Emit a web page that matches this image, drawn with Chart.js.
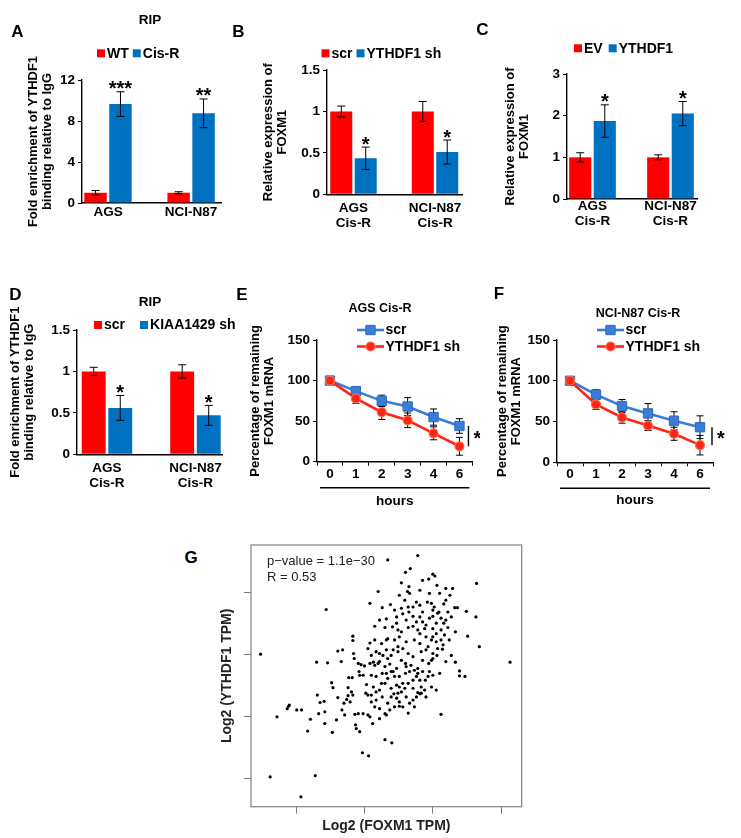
<!DOCTYPE html>
<html>
<head>
<meta charset="utf-8">
<title>YTHDF1 / FOXM1</title>
<script src="https://cdn.jsdelivr.net/npm/chart.js@4.4.1/dist/chart.umd.min.js"></script>
<style>
  html, body { margin: 0; padding: 0; background: #fff; }
  #fig { position: relative; width: 741px; height: 838px; overflow: hidden; font-family: Arial, "Liberation Sans", Helvetica, sans-serif; }
  #fig canvas { position: absolute; }
  .txt { position: absolute; transform: translate(-50%, -50%); font-weight: bold; line-height: 1; white-space: nowrap; color: #000; }
  .letter { font-size: 17px; }
  .title { font-size: 13.5px; }
  .small { font-size: 12.5px; }
</style>
</head>
<body>
<div id="fig">
  <canvas id="chartA" width="240" height="235" style="left:0;top:0"></canvas>
  <canvas id="chartB" width="240" height="235" style="left:240px;top:0"></canvas>
  <canvas id="chartC" width="261" height="235" style="left:480px;top:0"></canvas>
  <canvas id="chartD" width="240" height="250" style="left:0;top:260px"></canvas>
  <canvas id="chartE" width="240" height="255" style="left:240px;top:260px"></canvas>
  <canvas id="chartF" width="261" height="255" style="left:480px;top:260px"></canvas>
  <canvas id="chartG" width="341" height="298" style="left:200px;top:540px"></canvas>

  <div class="txt letter" style="left:17.5px;top:31px">A</div>
  <div class="txt letter" style="left:238.5px;top:31px">B</div>
  <div class="txt letter" style="left:482.5px;top:29px">C</div>
  <div class="txt letter" style="left:15.5px;top:293.5px">D</div>
  <div class="txt letter" style="left:242px;top:294px">E</div>
  <div class="txt letter" style="left:499px;top:292.5px">F</div>
  <div class="txt letter" style="left:191px;top:557px">G</div>

  <div class="txt title" style="left:150px;top:20px">RIP</div>
  <div class="txt title" style="left:150px;top:302px">RIP</div>
  <div class="txt small" style="left:380px;top:308px">AGS Cis-R</div>
  <div class="txt small" style="left:638px;top:313px">NCI-N87 Cis-R</div>
</div>

<script>
const FONT = 'Arial, "Liberation Sans", Helvetica, sans-serif';
const BAR_RED = '#FF0000';
const BAR_BLUE = '#0070C0';
const LINE_BLUE = '#3A7DD6';
const LINE_RED = '#FF2418';

// categories
const cellLines = ['AGS', 'NCI-N87'];
const cellLinesCisR = [['AGS', 'Cis-R'], ['NCI-N87', 'Cis-R']];
const hourLabels = ['0', '1', '2', '3', '4', '6'];

// A - RIP, WT vs Cis-R
const ripWT = [1.0, 1.0];
const ripWTErr = [0.22, 0.1];
const ripCisR = [9.65, 8.75];
const ripCisRErr = [1.2, 1.4];
const ripStars = ['***', '**'];
const ripTicks = [0, 4, 8, 12];

// B - FOXM1 after YTHDF1 knockdown
const foxScr = [1.0, 1.0];
const foxScrErr = [0.065, 0.12];
const foxSh = [0.435, 0.51];
const foxShErr = [0.135, 0.145];

// C - FOXM1 after YTHDF1 overexpression
const foxEV = [1.0, 1.0];
const foxEVErr = [0.11, 0.06];
const foxOE = [1.87, 2.05];
const foxOEErr = [0.39, 0.29];
const oeTicks = [0, 1, 2, 3];

// D - RIP after KIAA1429 knockdown
const kiaaScr = [1.0, 1.0];
const kiaaScrErr = [0.05, 0.08];
const kiaaSh = [0.56, 0.47];
const kiaaShErr = [0.15, 0.12];

const halfTicks = [0, 0.5, 1, 1.5];
const oneStar = ['*', '*'];

// E / F - mRNA stability
const agsScr = [100, 87, 75, 68, 55, 44];
const agsScrErr = [2, 2, 7, 11, 10, 9];
const agsSh = [100, 78, 61, 51, 35, 19];
const agsShErr = [2, 6, 9, 9, 8, 11];
const nciScr = [100, 83, 69, 60, 51, 43];
const nciScrErr = [2, 6, 8, 12, 11, 14];
const nciSh = [100, 71, 55, 45, 35, 21];
const nciShErr = [2, 6, 7, 6, 8, 12];
const pctTicks = [0, 50, 100, 150];

// G - correlation (log2 TPM)
const foxm1Tpm = [
  2.34, 2.78, 2.67, 2.60, 0.48, 1.44, 4.13, 0.72, 0.62, 1.28,
  1.07, 1.97, 2.06, 2.30, 2.40, 3.12, 3.64, 3.68, 3.63, 3.49,
  3.51, 3.39, 3.39, 3.47, 3.33, 3.33, 3.32, 3.36, 3.19, 3.29,
  3.25, 3.06, 3.00, 3.03, 2.94, 2.85, 2.54, 2.20, 2.65, 2.66,
  2.63, 1.30, 1.46, 0.90, 0.89, 0.87, 1.01, 1.08, 1.17, 1.21,
  1.33, 1.31, 1.35, 1.41, 1.42, 1.42, 1.53, 1.52, 1.54, 1.59,
  1.61, 1.61, 1.68, 1.66, 1.67, 1.70, 1.71, 1.74, 1.76, 1.79,
  1.76, 1.77, 1.82, 1.83, 1.83, 1.84, 1.85, 1.91, 1.81, 1.83,
  1.87, 1.88, 1.93, 1.86, 1.91, 1.98, 1.95, 1.92, 1.93, 2.00,
  2.08, 2.13, 2.15, 1.98, 2.03, 2.02, 2.05, 2.10, 2.05, 2.08,
  2.12, 2.08, 2.05, 2.08, 2.10, 2.15, 2.81, 2.95, 2.26, 2.38,
  2.44, 2.54, 2.64, 2.76, 2.81, 2.92, 2.98, 3.02, 3.09, 3.16,
  2.22, 2.32, 2.47, 2.56, 2.65, 2.71, 2.81, 2.85, 2.95, 3.00,
  3.07, 3.16, 3.19, 3.27, 2.30, 2.41, 2.49, 2.54, 2.64, 2.71,
  2.78, 2.88, 3.00, 3.05, 3.12, 3.22, 2.15, 2.25, 2.34, 2.44,
  2.51, 2.61, 2.73, 2.81, 2.90, 2.98, 3.05, 3.15, 3.24, 2.17,
  2.22, 2.32, 2.39, 2.49, 2.56, 2.64, 2.71, 2.83, 2.90, 3.00,
  3.06, 3.14, 3.27, 2.22, 2.30, 2.37, 2.47, 2.54, 2.60, 2.68,
  2.78, 2.85, 2.94, 3.00, 3.19, 2.10, 2.17, 2.26, 2.34, 2.42,
  2.51, 2.60, 2.71, 2.78, 2.85, 2.93, 3.00, 3.10, 2.13, 2.22,
  2.30, 2.39, 2.47, 2.54, 2.64, 2.71, 2.78, 2.88, 2.98, 3.05,
  2.17, 2.26, 2.34, 2.43, 2.47, 2.51, 2.61, 2.71, 2.81, 2.90,
  2.15, 2.22, 2.30, 2.37, 2.44, 2.51, 2.64, 2.73, 2.22, 2.32,
  2.49, 2.51, 2.56, 2.59, 2.39, 2.44, 2.61, 2.66, 2.73, 2.76,
  2.81, 2.83, 2.89, 2.95, 2.98, 3.07, 3.12, 3.17, 3.00, 2.93,
  2.81, 2.49, 2.42, 2.34, 2.27, 2.20, 2.32, 2.25, 2.17, 2.10,
  2.39, 2.56, 2.66, 2.76, 2.83, 2.32, 2.47, 2.61, 2.76, 2.90,
  3.05, 3.12, 3.22, 3.00, 2.85, 2.71, 2.59, 2.51, 3.10, 3.19
];
const ythdf1Tpm = [
  4.53, 4.60, 4.39, 4.33, 3.01, 3.73, 2.88, 2.00, 1.03, 1.05,
  0.71, 1.42, 1.37, 1.63, 1.58, 2.04, 4.15, 3.13, 3.61, 3.70,
  3.30, 2.74, 2.66, 2.65, 2.88, 3.37, 3.76, 3.76, 4.07, 4.07,
  3.96, 4.12, 4.30, 4.27, 4.22, 4.20, 4.16, 4.02, 4.10, 3.99,
  4.02, 2.88, 2.87, 2.19, 2.17, 2.13, 2.11, 2.11, 1.77, 1.96,
  2.05, 2.35, 2.23, 2.25, 2.08, 1.89, 1.75, 2.55, 2.47, 1.95,
  2.31, 3.06, 3.08, 2.89, 2.11, 2.22, 2.03, 2.28, 2.34, 2.24,
  2.47, 2.63, 2.63, 3.30, 3.23, 3.02, 2.94, 2.86, 2.40, 2.35,
  1.87, 1.81, 1.76, 2.04, 2.05, 2.05, 2.84, 2.73, 2.67, 2.82,
  2.86, 2.88, 2.83, 2.67, 2.52, 2.38, 2.35, 2.35, 2.03, 2.00,
  1.89, 3.83, 3.10, 3.19, 2.99, 3.46, 4.04, 3.99, 3.76, 3.81,
  3.72, 3.75, 3.77, 3.85, 3.80, 3.85, 3.83, 3.77, 3.69, 3.82,
  3.56, 3.58, 3.61, 3.66, 3.69, 3.62, 3.61, 3.53, 3.59, 3.62,
  3.67, 3.51, 3.56, 3.61, 3.44, 3.45, 3.40, 3.37, 3.44, 3.46,
  3.40, 3.42, 3.42, 3.34, 3.40, 3.44, 3.24, 3.18, 3.26, 3.24,
  3.29, 3.21, 3.24, 3.18, 3.29, 3.24, 3.21, 3.16, 3.24, 3.05,
  3.02, 3.08, 2.99, 3.05, 3.10, 3.02, 2.97, 3.05, 3.08, 3.02,
  2.99, 3.09, 2.99, 2.89, 2.81, 2.85, 2.78, 2.91, 2.86, 2.83,
  2.78, 2.91, 2.86, 2.94, 2.89, 2.67, 2.65, 2.70, 2.62, 2.73,
  2.65, 2.70, 2.59, 2.70, 2.73, 2.65, 2.67, 2.70, 2.48, 2.43,
  2.54, 2.46, 2.51, 2.40, 2.54, 2.46, 2.39, 2.43, 2.48, 2.43,
  2.27, 2.32, 2.22, 2.37, 2.30, 2.24, 2.32, 2.27, 2.37, 2.32,
  2.16, 2.13, 2.05, 2.11, 2.16, 2.17, 2.06, 2.16, 1.97, 2.03,
  2.38, 2.48, 2.54, 2.46, 2.73, 2.65, 2.81, 2.73, 2.75, 2.65,
  2.59, 2.48, 2.59, 2.73, 2.91, 3.10, 3.24, 3.32, 3.29, 3.13,
  3.34, 3.13, 3.08, 2.94, 2.99, 2.86, 2.70, 2.54, 2.40, 2.24,
  2.32, 2.16, 2.22, 2.32, 2.38, 3.24, 3.51, 3.56, 3.53, 3.48,
  3.51, 3.59, 3.69, 3.72, 3.69, 3.77, 3.88, 3.96, 3.99, 3.88
];
const gAxisTicks = [1, 2, 3, 4];
const gNotes = ['p\u2212value = 1.1e\u221230', 'R = 0.53'];

Chart.defaults.font.family = FONT;
Chart.defaults.color = '#000';

const boldTick = { size: 13.5, weight: 'bold' };

// error bars (and significance stars) for every dataset that carries an errors array
function drawErrors(chart, opts) {
  const ctx = chart.ctx;
  const ys = chart.scales.y;
  ctx.save();
  ctx.strokeStyle = '#000';
  ctx.lineWidth = 1;
  chart.data.datasets.forEach((ds, di) => {
    if (!ds.errors) return;
    chart.getDatasetMeta(di).data.forEach((el, i) => {
      const raw = ds.data[i];
      const v = typeof raw === 'object' ? raw.y : raw;
      const e = ds.errors[i];
      const yTop = ys.getPixelForValue(v + e);
      const yBot = ys.getPixelForValue(v - e);
      const c = opts.cap;
      ctx.beginPath();
      ctx.moveTo(el.x, yTop); ctx.lineTo(el.x, yBot);
      ctx.moveTo(el.x - c, yTop); ctx.lineTo(el.x + c, yTop);
      ctx.moveTo(el.x - c, yBot); ctx.lineTo(el.x + c, yBot);
      ctx.stroke();
      if (ds.stars && ds.stars[i]) {
        ctx.fillStyle = '#000';
        ctx.font = 'bold 20px ' + FONT;
        ctx.textAlign = 'center';
        ctx.textBaseline = 'alphabetic';
        ctx.fillText(ds.stars[i], el.x, yTop + 3.5);
      }
    });
  });
  ctx.restore();
}

const errorBars = {
  id: 'errorBars',
  beforeDatasetsDraw(chart, args, opts) { if (opts.behind) drawErrors(chart, opts); },
  afterDatasetsDraw(chart, args, opts) { if (!opts.behind) drawErrors(chart, opts); }
};

const keyLegend = {
  id: 'keyLegend',
  afterDraw(chart, args, o) {
    const ctx = chart.ctx;
    ctx.save();
    ctx.font = 'bold 14px ' + FONT;
    ctx.textBaseline = 'middle';
    ctx.textAlign = 'left';
    let x = o.x, y = o.y;
    chart.data.datasets.forEach(ds => {
      if (o.lines) {
        ctx.strokeStyle = ds.borderColor;
        ctx.lineWidth = ds.borderWidth;
        ctx.beginPath();
        ctx.moveTo(x, y); ctx.lineTo(x + 27, y);
        ctx.stroke();
        ctx.fillStyle = ds.backgroundColor;
        ctx.strokeStyle = ds.pointBorderColor;
        ctx.lineWidth = ds.pointBorderWidth;
        Chart.helpers.drawPoint(ctx, { pointStyle: ds.pointStyle, radius: ds.pointRadius, borderWidth: ds.pointBorderWidth, rotation: 0 }, x + 13.5, y);
        ctx.fillStyle = '#000';
        ctx.fillText(ds.label, x + 28.5, y + 0.5);
        y += o.dy;
      } else {
        ctx.fillStyle = ds.backgroundColor;
        ctx.fillRect(x, y - 4, 8, 8);
        ctx.fillStyle = '#000';
        ctx.fillText(ds.label, x + 10, y + 0.5);
        x += 10 + ctx.measureText(ds.label).width + o.gap;
      }
    });
    ctx.restore();
  }
};

const sigMark = {
  id: 'sigMark',
  afterDraw(chart, args, o) {
    const ctx = chart.ctx;
    const a = chart.getDatasetMeta(0).data.at(-1);
    const b = chart.getDatasetMeta(1).data.at(-1);
    const x = a.x + o.dx;
    const xs = chart.scales.x;
    const area = chart.chartArea;
    ctx.save();
    ctx.strokeStyle = '#000';
    ctx.lineWidth = 1.4;
    ctx.beginPath();
    ctx.moveTo(x, a.y); ctx.lineTo(x, b.y);
    // rule under the hour labels
    ctx.moveTo(area.left + 3, xs.top + 26); ctx.lineTo(area.right - 3, xs.top + 26);
    ctx.stroke();
    ctx.fillStyle = '#000';
    ctx.font = 'bold 20px ' + FONT;
    ctx.textAlign = 'center';
    ctx.textBaseline = 'alphabetic';
    ctx.fillText('*', x + 9, (a.y + b.y) / 2 + 9);
    ctx.restore();
  }
};

const frameNote = {
  id: 'frameNote',
  afterDraw(chart, args, o) {
    const ctx = chart.ctx;
    const { left, top, right, bottom } = chart.chartArea;
    ctx.save();
    ctx.strokeStyle = '#8a8a8a';
    ctx.lineWidth = 1.3;
    ctx.strokeRect(left, top, right - left, bottom - top);
    ctx.fillStyle = '#222';
    ctx.font = '13px ' + FONT;
    ctx.textBaseline = 'middle';
    ctx.textAlign = 'left';
    o.lines.forEach((t, i) => ctx.fillText(t, left + 16, top + 16 + i * 16));
    ctx.restore();
  }
};

function barPanel(canvasId, cfg) {
  const ds = (label, vals, errs, color, stars) => ({
    label: label,
    data: vals.map((v, i) => ({ x: i, y: v })),
    errors: errs,
    stars: stars,
    backgroundColor: color,
    borderWidth: 0,
    categoryPercentage: cfg.catPct,
    barPercentage: 0.9
  });
  return new Chart(document.getElementById(canvasId), {
    type: 'bar',
    data: {
      datasets: [
        ds(cfg.names[0], cfg.v1, cfg.e1, BAR_RED),
        ds(cfg.names[1], cfg.v2, cfg.e2, BAR_BLUE, cfg.stars)
      ]
    },
    options: {
      responsive: false,
      animation: false,
      devicePixelRatio: 1,
      events: [],
      layout: { padding: cfg.pad },
      scales: {
        x: {
          type: 'linear',
          offset: false,
          min: cfg.xMin,
          max: cfg.xMax,
          grid: { display: false, drawTicks: false, offset: false },
          border: { display: true, color: '#000', width: 1.4 },
          afterBuildTicks: s => { s.ticks = cfg.labels.map((_, i) => ({ value: i })); },
          ticks: {
            autoSkip: false, maxRotation: 0, padding: cfg.xPad,
            font: { size: 13.5, weight: 'bold', lineHeight: 1.12 },
            callback: v => cfg.labels[v]
          },
          afterFit: s => { s.height = cfg.xH; }
        },
        y: {
          min: 0,
          max: cfg.yTicks[cfg.yTicks.length - 1],
          afterBuildTicks: s => { s.ticks = cfg.yTicks.map(v => ({ value: v })); },
          grid: { drawOnChartArea: false, drawTicks: true, tickLength: 4, color: '#000' },
          border: { display: true, color: '#000', width: 1.4 },
          ticks: { padding: 3, font: boldTick, callback: v => String(v) },
          title: {
            display: true, text: cfg.yTitle,
            font: { size: 13, weight: 'bold', lineHeight: 1.1 },
            padding: { top: 6, bottom: 0 }
          },
          afterFit: s => { s.width = cfg.yW; }
        }
      },
      plugins: {
        legend: { display: false },
        tooltip: { enabled: false },
        errorBars: { behind: false, cap: 4 },
        keyLegend: cfg.legend
      }
    },
    plugins: [errorBars, keyLegend]
  });
}

function linePanel(canvasId, cfg) {
  return new Chart(document.getElementById(canvasId), {
    type: 'line',
    data: {
      labels: hourLabels,
      datasets: [
        {
          label: 'scr', data: cfg.scr, errors: cfg.scrErr, order: 1,
          borderColor: LINE_BLUE, backgroundColor: LINE_BLUE,
          pointBackgroundColor: LINE_BLUE, pointBorderColor: '#2C68C0', pointBorderWidth: 1,
          pointStyle: 'rect', pointRadius: 6.6, borderWidth: 2.6, tension: 0, clip: false
        },
        {
          label: 'YTHDF1 sh', data: cfg.sh, errors: cfg.shErr, order: 0,
          borderColor: LINE_RED, backgroundColor: LINE_RED,
          pointBackgroundColor: LINE_RED, pointBorderColor: '#FF7448', pointBorderWidth: 1.2,
          pointStyle: 'circle', pointRadius: 4.5, borderWidth: 2.6, tension: 0, clip: false
        }
      ]
    },
    options: {
      responsive: false,
      animation: false,
      devicePixelRatio: 1,
      events: [],
      layout: { padding: cfg.pad },
      scales: {
        x: {
          offset: true,
          grid: { offset: true, drawOnChartArea: false, drawTicks: true, tickLength: 4, color: '#000' },
          border: { display: true, color: '#000', width: 1.4 },
          ticks: { padding: 0, font: boldTick, autoSkip: false, maxRotation: 0 },
          title: { display: true, text: 'hours', font: boldTick, padding: { top: 0, bottom: cfg.hoursPad } },
          afterFit: s => { s.height = 50; }
        },
        y: {
          min: 0,
          max: 150,
          afterBuildTicks: s => { s.ticks = pctTicks.map(v => ({ value: v })); },
          grid: { drawOnChartArea: false, drawTicks: true, tickLength: 4, color: '#000' },
          border: { display: true, color: '#000', width: 1.4 },
          ticks: { padding: 3, font: boldTick },
          title: {
            display: true, text: ['Percentage of remaining', 'FOXM1 mRNA'],
            font: { size: 13, weight: 'bold', lineHeight: 1.1 },
            padding: { top: 6, bottom: 0 }
          },
          afterFit: s => { s.width = cfg.yW; }
        }
      },
      plugins: {
        legend: { display: false },
        tooltip: { enabled: false },
        errorBars: { behind: true, cap: 3.5 },
        keyLegend: { lines: true, x: 117, y: 70, dy: 16.5 },
        sigMark: { dx: cfg.sigDx }
      }
    },
    plugins: [errorBars, keyLegend, sigMark]
  });
}

const ripTitle = ['Fold enrichment of YTHDF1', 'binding relative to IgG'];
const exprTitle = ['Relative expression of', 'FOXM1'];

barPanel('chartA', {
  names: ['WT', 'Cis-R'], v1: ripWT, e1: ripWTErr, v2: ripCisR, e2: ripCisRErr, stars: ripStars,
  labels: cellLines, yTicks: ripTicks, yTitle: ripTitle,
  pad: { left: 20, top: 80, right: 19, bottom: 7 }, yW: 62, xH: 25, xPad: 2,
  xMin: -0.313, xMax: 1.36, catPct: 0.6,
  legend: { x: 97, y: 53.3, gap: 4 }
});

barPanel('chartB', {
  names: ['scr', 'YTHDF1 sh'], v1: foxScr, e1: foxScrErr, v2: foxSh, e2: foxShErr, stars: oneStar,
  labels: cellLinesCisR, yTicks: halfTicks, yTitle: exprTitle,
  pad: { left: 15, top: 70, right: 18, bottom: 5.7 }, yW: 72, xH: 35, xPad: 6,
  xMin: -0.325, xMax: 1.331, catPct: 0.6,
  legend: { x: 81.5, y: 53.3, gap: 4 }
});

barPanel('chartC', {
  names: ['EV', 'YTHDF1'], v1: foxEV, e1: foxEVErr, v2: foxOE, e2: foxOEErr, stars: oneStar,
  labels: cellLinesCisR, yTicks: oeTicks, yTitle: exprTitle,
  pad: { left: 17, top: 74, right: 44, bottom: 1 }, yW: 70, xH: 35, xPad: 0,
  xMin: -0.327, xMax: 1.34, catPct: 0.63,
  legend: { x: 94, y: 48.3, gap: 6 }
});

barPanel('chartD', {
  names: ['scr', 'KIAA1429 sh'], v1: kiaaScr, e1: kiaaScrErr, v2: kiaaSh, e2: kiaaShErr, stars: oneStar,
  labels: cellLinesCisR, yTicks: halfTicks, yTitle: ripTitle,
  pad: { left: 2, top: 70, right: 18, bottom: 20.7 }, yW: 75, xH: 35, xPad: 6.5,
  xMin: -0.339, xMax: 1.3, catPct: 0.6,
  legend: { x: 94, y: 65, gap: 15 }
});

linePanel('chartE', {
  scr: agsScr, scrErr: agsScrErr, sh: agsSh, shErr: agsShErr,
  pad: { left: 2, top: 80, right: 7, bottom: 3.3 }, yW: 75, hoursPad: 2.2, sigDx: 9
});

linePanel('chartF', {
  scr: nciScr, scrErr: nciScrErr, sh: nciSh, shErr: nciShErr,
  pad: { left: 9, top: 80, right: 28, bottom: 2.7 }, yW: 68, hoursPad: 3.8, sigDx: 12
});

new Chart(document.getElementById('chartG'), {
  type: 'scatter',
  data: {
    datasets: [{
      label: 'samples',
      data: foxm1Tpm.map((x, i) => ({ x: x, y: ythdf1Tpm[i] })),
      pointRadius: 1.6,
      pointBackgroundColor: '#000',
      pointBorderWidth: 0
    }]
  },
  options: {
    responsive: false,
    animation: false,
    devicePixelRatio: 1,
    events: [],
    layout: { padding: { left: 12, top: 5, right: 19.3, bottom: 1.3 } },
    scales: {
      x: {
        type: 'linear', min: 0.34, max: 4.3,
        afterBuildTicks: s => { s.ticks = gAxisTicks.map(v => ({ value: v })); },
        ticks: { display: false },
        grid: { drawOnChartArea: false, drawTicks: true, tickLength: 7, color: '#7a7a7a' },
        border: { display: false },
        title: { display: true, text: 'Log2 (FOXM1 TPM)', color: '#222', font: { size: 14, weight: 'bold' }, padding: { top: 0, bottom: 2.3 } },
        afterFit: s => { s.height = 30; }
      },
      y: {
        type: 'linear', min: 0.55, max: 4.77,
        afterBuildTicks: s => { s.ticks = gAxisTicks.map(v => ({ value: v })); },
        ticks: { display: false },
        grid: { drawOnChartArea: false, drawTicks: true, tickLength: 7, color: '#7a7a7a' },
        border: { display: false },
        title: { display: true, text: 'Log2 (YTHDF1 TPM)', color: '#222', font: { size: 14, weight: 'bold' }, padding: { top: 6.3, bottom: 0 } },
        afterFit: s => { s.width = 39; }
      }
    },
    plugins: {
      legend: { display: false },
      tooltip: { enabled: false },
      frameNote: { lines: gNotes }
    }
  },
  plugins: [frameNote]
});
</script>
</body>
</html>
